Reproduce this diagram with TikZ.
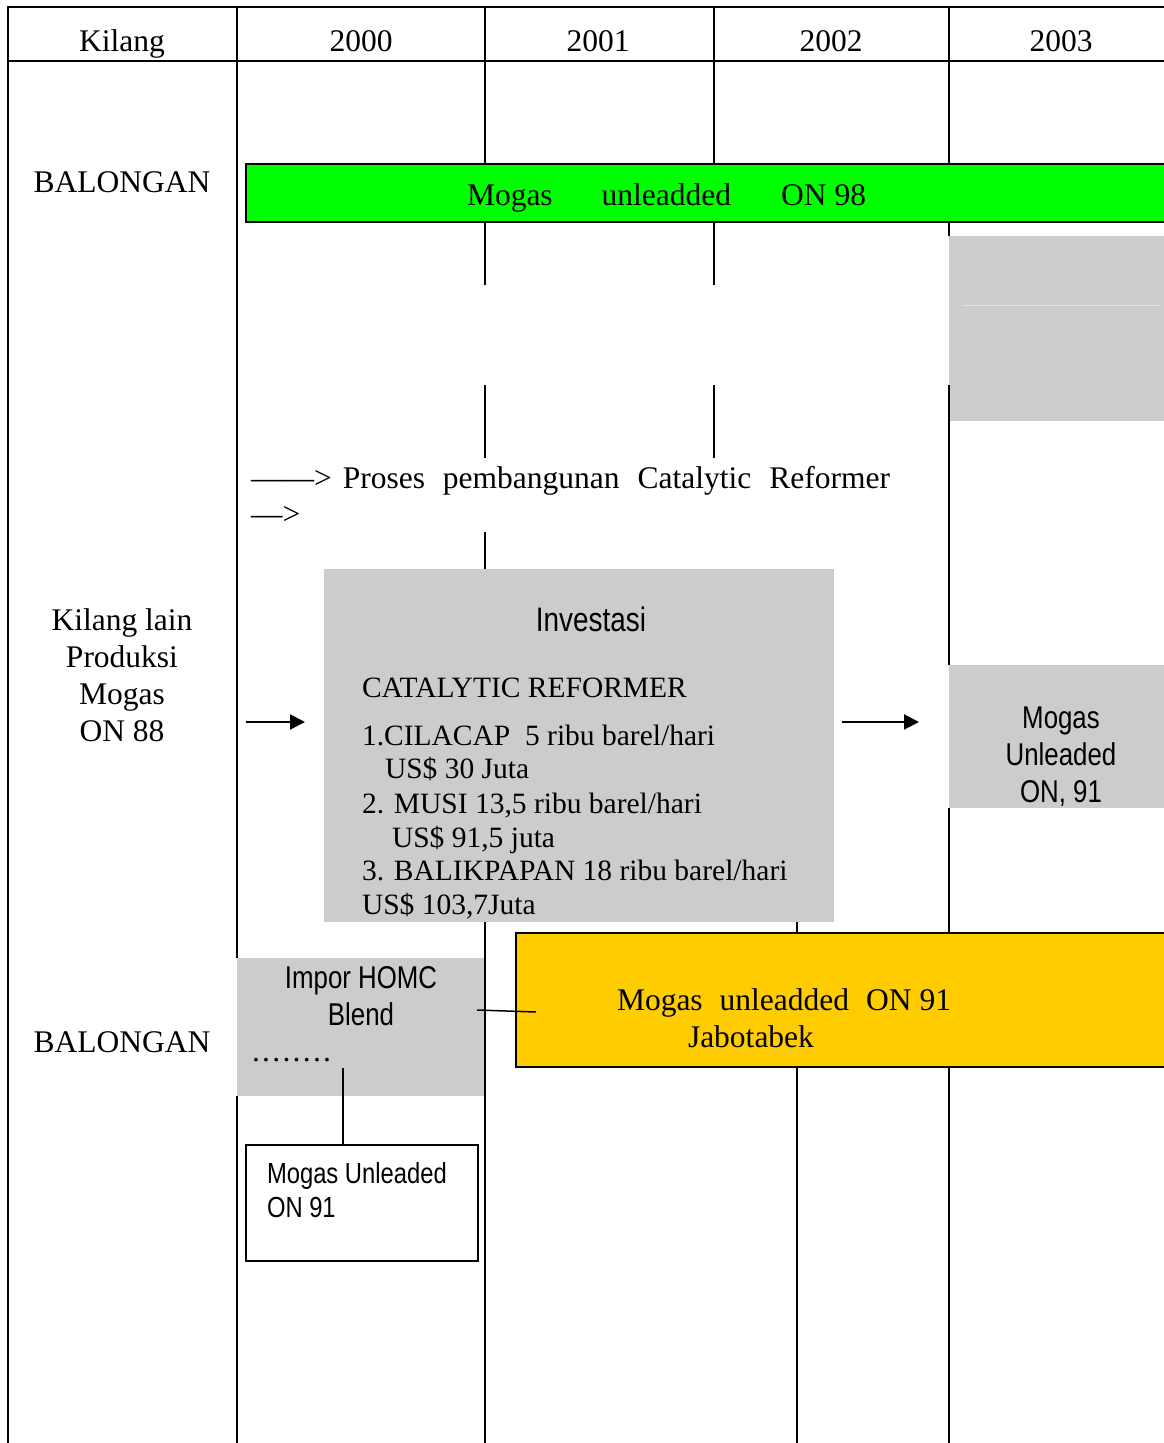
\documentclass[tikz,border=0pt]{standalone}
\usepackage{fontspec}
\setmainfont{Liberation Serif}
\newfontfamily\narrowsans[FakeStretch=0.82]{Liberation Sans}
\usetikzlibrary{arrows.meta}
\definecolor{boxgray}{HTML}{CCCCCC}
\definecolor{bargreen}{HTML}{00FF00}
\definecolor{baryellow}{HTML}{FFCC00}
\definecolor{faintgray}{HTML}{E4E4E4}
\begin{document}
\begin{tikzpicture}[x=1pt,y=-1pt,
  gridline/.style={line width=2pt,line cap=butt},
  grayfill/.style={fill=boxgray,draw=none,inner sep=0pt,outer sep=0pt},
  barbox/.style={draw=black,line width=2.2pt,inner sep=0pt,outer sep=0pt},
  plainbox/.style={draw=black,line width=1.6pt,fill=white,inner sep=0pt,outer sep=0pt},
  serifL/.style={font=\fontsize{31.5}{37}\selectfont,inner sep=0pt,outer sep=0pt},
  serifM/.style={font=\fontsize{29.5}{34}\selectfont,inner sep=0pt,outer sep=0pt},
  sansL/.style={font=\narrowsans\fontsize{31.5}{36}\selectfont,inner sep=0pt,outer sep=0pt},
  sansXL/.style={font=\narrowsans\fontsize{34}{38}\selectfont,inner sep=0pt,outer sep=0pt},
  sansM/.style={font=\narrowsans\fontsize{29}{34}\selectfont,inner sep=0pt,outer sep=0pt},
  connector/.style={line width=1.5pt},
  arrowline/.style={line width=2pt,-{Triangle[length=15pt,width=15pt]}}
]
\useasboundingbox[fill=white] (0,0) rectangle (1163,1443);

% gray boxes
\node[grayfill,minimum width=221pt,minimum height=185pt] (grayTop) at (1059.5,328.5) {};
\draw[faintgray,line width=1pt] (963,305) -- (1160,305);
\node[grayfill,minimum width=221pt,minimum height=143pt] (grayRight) at (1059.5,736.5) {};
\node[grayfill,minimum width=510pt,minimum height=353pt] (invest) at (579,745.5) {};
\node[grayfill,minimum width=248pt,minimum height=138pt] (impor) at (361,1027) {};

% grid lines
\draw[gridline] (7,7) -- (1170,7);
\draw[gridline] (7,61) -- (1170,61);
\draw[gridline] (8,6) -- (8,1450);
\draw[gridline] (237,6) -- (237,958);
\draw[gridline] (237,1096) -- (237,1450);
\draw[gridline] (485,6) -- (485,285);
\draw[gridline] (485,385) -- (485,458);
\draw[gridline] (485,532) -- (485,569);
\draw[gridline] (485,922) -- (485,1450);
\draw[gridline] (714,6) -- (714,285);
\draw[gridline] (714,385) -- (714,458);
\draw[gridline] (797,922) -- (797,1450);
\draw[gridline] (949,6) -- (949,236);
\draw[gridline] (949,385) -- (949,665);
\draw[gridline] (949,808) -- (949,1450);

% coloured bars
\node[barbox,fill=bargreen,minimum width=934pt,minimum height=58pt] (green) at (713,193) {};
\node[barbox,fill=baryellow,minimum width=664pt,minimum height=134pt] (yellow) at (848,1000) {};
\node[plainbox,minimum width=232pt,minimum height=116pt] (mbox) at (362,1203) {};

% header
\node[serifL,anchor=base] (hKilang) at (122,51) {Kilang};
\node[serifL,anchor=base] (h2000) at (361,51) {2000};
\node[serifL,anchor=base] (h2001) at (598,51) {2001};
\node[serifL,anchor=base] (h2002) at (831,51) {2002};
\node[serifL,anchor=base] (h2003) at (1061,51) {2003};

% left column
\node[serifL,anchor=base] (balTop) at (122,192) {BALONGAN};
\node[serifL,anchor=base] (kl1) at (122,630) {Kilang lain};
\node[serifL,anchor=base] (kl2) at (122,667) {Produksi};
\node[serifL,anchor=base] (kl3) at (122,704) {Mogas};
\node[serifL,anchor=base] (kl4) at (122,741) {ON 88};
\node[serifL,anchor=base] (balBot) at (122,1052) {BALONGAN};

% green bar text
\node[serifL,anchor=base west] (greenTxt) at (467,205) {Mogas\hspace{49pt}unleadded\hspace{50pt}ON 98};

% process line
\node[serifL,anchor=base west] (proses) at (251,488) {——>\hspace{11pt}Proses\hspace{18pt}pembangunan\hspace{18pt}Catalytic\hspace{18pt}Reformer};
\node[serifL,anchor=base west] (proses2) at (251,524) {—>};

% investasi box
\node[sansXL,anchor=base] (invTitle) at (591,631) {Investasi};
\node[serifM,anchor=base west] (inv1) at (362,697) {CATALYTIC REFORMER};
\node[serifM,anchor=base west] (inv2) at (362,745) {1.CILACAP\ \ 5 ribu barel/hari};
\node[serifM,anchor=base west] (inv3) at (385,778) {US\$ 30 Juta};
\node[serifM,anchor=base west] (inv4) at (362,813) {2. MUSI 13,5 ribu barel/hari};
\node[serifM,anchor=base west] (inv5) at (392,847) {US\$ 91,5 juta};
\node[serifM,anchor=base west] (inv6) at (362,880) {3. BALIKPAPAN 18 ribu barel/hari};
\node[serifM,anchor=base west] (inv7) at (362,914) {US\$ 103,7Juta};

% right gray box text
\node[sansL,anchor=base] (r1) at (1061,728) {Mogas};
\node[sansL,anchor=base] (r2) at (1061,765) {Unleaded};
\node[sansL,anchor=base] (r3) at (1061,802) {ON, 91};

% impor box text
\node[sansL,anchor=base] (imp1) at (361,988) {Impor HOMC};
\node[sansL,anchor=base] (imp2) at (361,1025) {Blend};
\node[serifL,anchor=base west] (dots) at (252,1061) {.\hspace{2.3pt}.\hspace{2.3pt}.\hspace{2.3pt}.\hspace{2.3pt}.\hspace{2.3pt}.\hspace{2.3pt}.\hspace{2.3pt}.};

% yellow bar text
\node[serifL,anchor=base west] (yel1) at (617,1010) {Mogas\hspace{17pt}unleadded\hspace{17pt}ON 91};
\node[serifL,anchor=base west] (yel2) at (688,1047) {Jabotabek};

% bottom box text
\node[sansM,anchor=base west] (mb1) at (267,1183) {Mogas Unleaded};
\node[sansM,anchor=base west] (mb2) at (267,1217) {ON 91};

% connectors
\coordinate (aLstart) at (246,722);
\coordinate (aLend) at (305,722);
\coordinate (aRstart) at (842,722);
\coordinate (aRend) at (919,722);
\draw[arrowline] (aLstart) -- (aLend);
\draw[arrowline] (aRstart) -- (aRend);
\coordinate (cImp) at (477,1010);
\coordinate (cYel) at (536,1012);
\draw[connector] (cImp) -- (cYel);
\coordinate (cDots) at (343,1068);
\draw[connector] (cDots) -- (cDots |- mbox.north);
\end{tikzpicture}
\end{document}
